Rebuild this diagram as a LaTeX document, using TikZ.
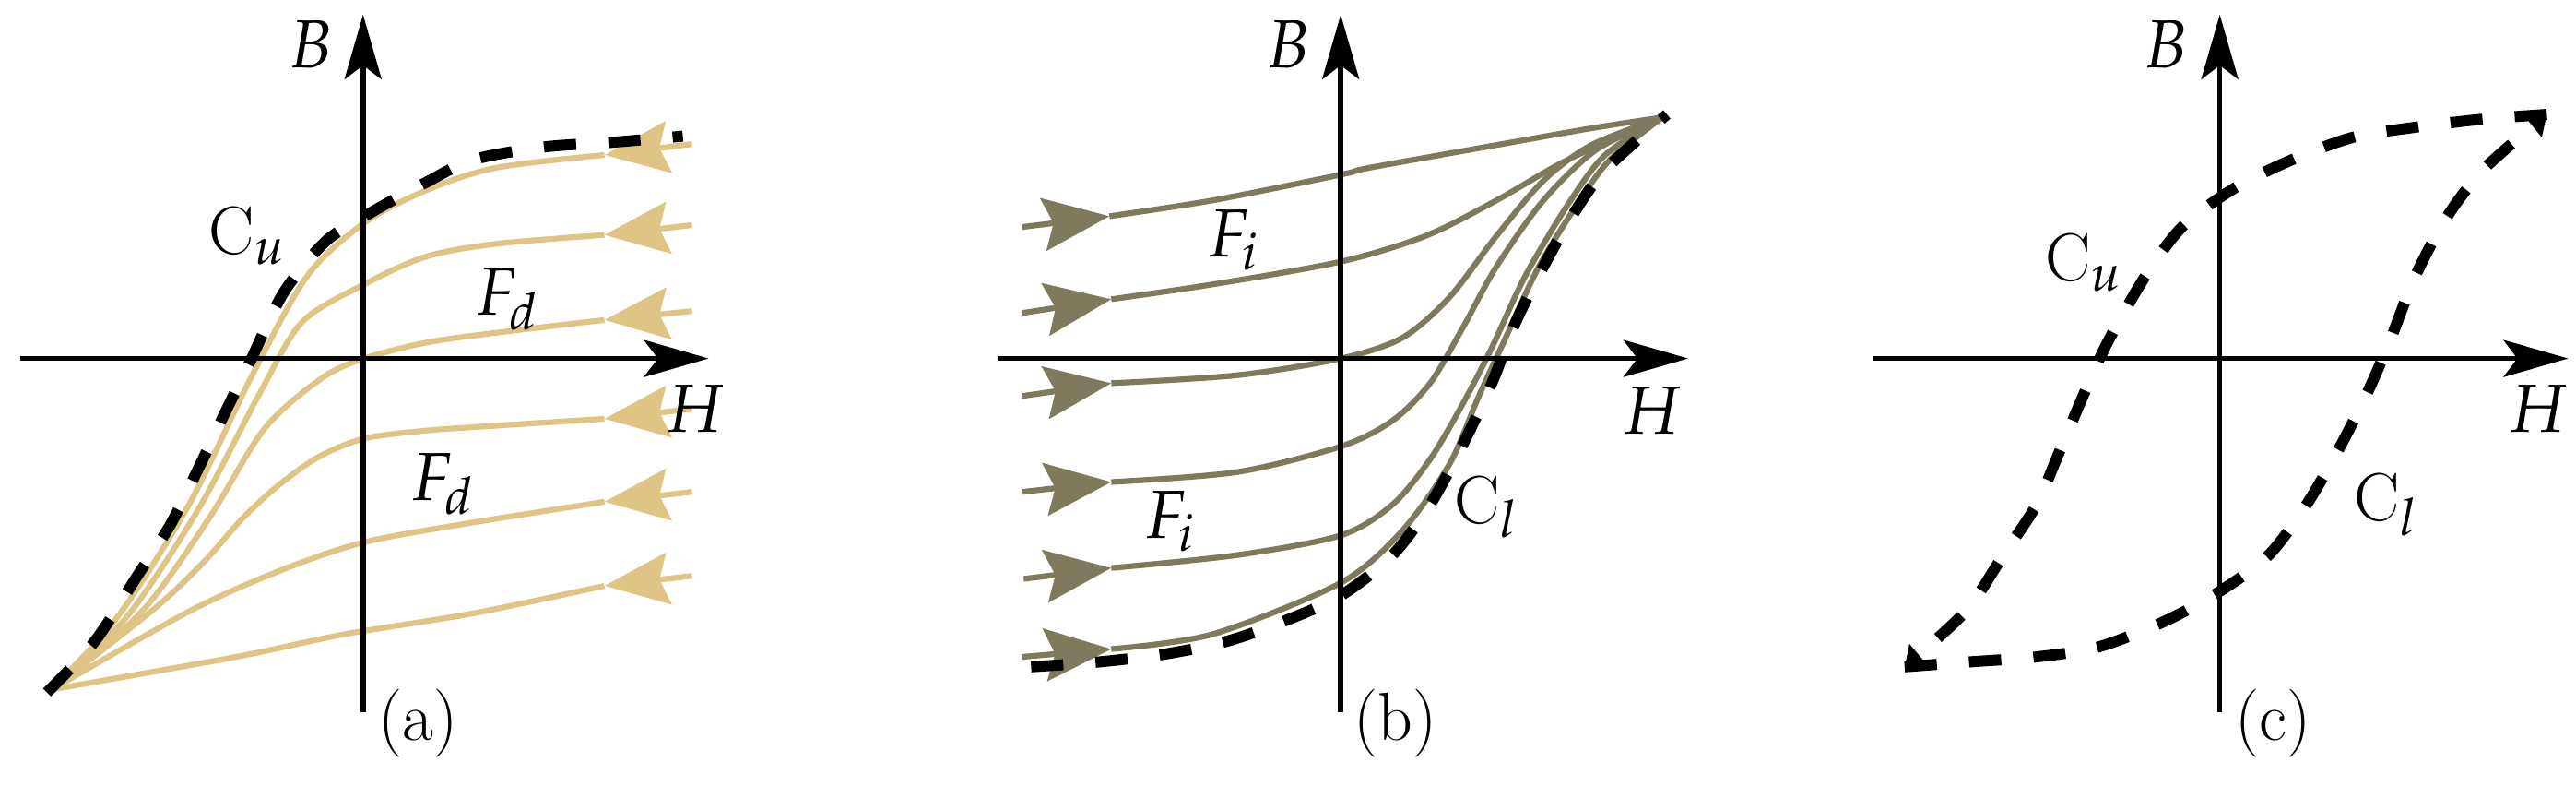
\documentclass[tikz,border=0pt]{standalone}
\usepackage{mathpazo}
\usetikzlibrary{arrows.meta}
\definecolor{sandc}{RGB}{222,197,134}
\definecolor{mudc}{RGB}{127,121,93}
\begin{document}
\begin{tikzpicture}[
  axis/.style={line width=0.055cm,-{Stealth[length=0.7cm,width=0.4cm,inset=0.15cm]}},
  sandline/.style={sandc,line width=0.062cm},
  sandhead/.style={sandc,line width=0.062cm,-{Stealth[length=0.7cm,width=0.56cm,inset=0.1cm]}},
  mudline/.style={mudc,line width=0.062cm},
  mudhead/.style={mudc,line width=0.062cm,-{Stealth[length=0.72cm,width=0.57cm,inset=0.11cm]}},
  dashc/.style={line width=0.12cm,dash pattern=on 0.35cm off 0.35cm},
  smallhead/.style={-{Triangle[length=0.2cm,width=0.3cm]}},
  lab/.style={font=\fontsize{21}{25}\selectfont,inner sep=0pt}]
\useasboundingbox (0cm,0cm) rectangle (27.94cm,-8.52cm);
\begin{scope}[x=0.01cm,y=-0.01071cm,yshift=0.077cm]

% ---------- panel (a)
\foreach \pts in {
 {(656,164) (538,177) (462,200) (395,233) (333,287) (272,390) (205,518) (128,631) (56,705)},
 {(656,245) (538,254) (462,267) (395,295) (328,333) (282,405) (215,523) (138,631) (56,705)},
 {(656,331) (538,344) (462,354) (395,370) (349,390) (287,441) (226,533) (154,626) (56,705)},
 {(656,431) (538,438) (462,443) (395,451) (345,470) (300,500) (262,533) (222,575) (169,622) (56,705)},
 {(656,515) (513,536) (395,556) (303,585) (205,626) (56,705)},
 {(656,600) (513,628) (374,649) (256,672) (56,705)}}
{
  \draw[sandline] plot[smooth] coordinates {\pts};
}
\draw[sandhead] (751,153) -- (656,164);
\draw[sandhead] (751,235) -- (656,245);
\draw[sandhead] (751,322) -- (656,331);
\draw[sandhead] (751,421) -- (656,431);
\draw[sandhead] (751,505) -- (656,515);
\draw[sandhead] (751,590) -- (656,600);

\draw[axis] (394,728) -- (394,22);
\draw[axis] (22,370) -- (769,370);
\draw[dashc] plot[smooth] coordinates {(51,708) (103,656) (149,590) (185,538) (215,482) (241,431) (272,372) (308,303) (354,251) (405,221) (462,192) (513,169) (590,156) (667,151) (741,145)};

\node[lab] (Ba) at (338,52) {$B$};
\node[lab] (Ha) at (754,421) {$H$};
\node[lab] (la) at (454,739) {(a)};
\node[lab] (Cua) at (268,246) {C$_u$};
\node[lab] (Fda) at (550,310) {$F_d$};
\node[lab] (Fdb) at (480,497) {$F_d$};

% ---------- panel (b)
\foreach \pts in {
 {(1204,226) (1316,210) (1455,184) (1486,177) (1624,154) (1727,137) (1804,126)},
 {(1206,310) (1316,295) (1455,272) (1547,246) (1624,210) (1701,169) (1804,126)},
 {(1206,395) (1342,387) (1455,370) (1522,349) (1573,308) (1624,246) (1675,190) (1727,154) (1804,126)},
 {(1206,495) (1342,485) (1455,459) (1511,433) (1552,395) (1588,338) (1624,277) (1675,210) (1732,159) (1804,126)},
 {(1206,582) (1342,569) (1455,549) (1511,518) (1552,472) (1588,415) (1619,359) (1655,287) (1701,215) (1742,164) (1804,126)},
 {(1206,664) (1316,649) (1455,597) (1522,544) (1573,477) (1604,410) (1634,349) (1670,277) (1711,215) (1747,169) (1804,126)}}
{
  \draw[mudline] plot[smooth] coordinates {\pts};
}
\draw[mudhead] (1109,237) -- (1204,226);
\draw[mudhead] (1109,324) -- (1206,310);
\draw[mudhead] (1109,408) -- (1206,395);
\draw[mudhead] (1109,505) -- (1206,495);
\draw[mudhead] (1111,593) -- (1206,582);
\draw[mudhead] (1109,672) -- (1206,664);

\draw[axis] (1455,728) -- (1455,22);
\draw[axis] (1084,370) -- (1832,370);
\draw[dashc] plot[smooth] coordinates {(1119,682) (1193,677) (1265,669) (1332,656) (1393,636) (1455,610) (1511,569) (1552,518) (1588,456) (1619,395) (1645,333) (1675,277) (1706,226) (1742,179) (1809,123)};

\node[lab] (Bb) at (1398,52) {$B$};
\node[lab] (Hb) at (1793,423) {$H$};
\node[lab] (lb) at (1514,739) {(b)};
\node[lab] (Fia) at (1339,250) {$F_i$};
\node[lab] (Fib) at (1270,535) {$F_i$};
\node[lab] (Clb) at (1613,520) {C$_l$};

% ---------- panel (c)
\draw[axis] (2409,728) -- (2409,22);
\draw[axis] (2033,370) -- (2787,370);
\draw[dashc,smallhead] plot[smooth] coordinates {(2764,123) (2692,128) (2621,136) (2554,146) (2487,169) (2426,197) (2369,236) (2328,287) (2287,354) (2262,405) (2236,462) (2210,518) (2174,569) (2133,626) (2067,682)};
\draw[dashc,smallhead] plot[smooth] coordinates {(2067,682) (2138,677) (2210,672) (2277,662) (2349,636) (2410,605) (2462,569) (2503,518) (2538,462) (2569,405) (2595,349) (2621,287) (2656,226) (2697,177) (2764,123)};

\node[lab] (Bc) at (2351,52) {$B$};
\node[lab] (Hc) at (2754,421) {$H$};
\node[lab] (lc) at (2467,739) {(c)};
\node[lab] (Cuc) at (2262,273) {C$_u$};
\node[lab] (Clc) at (2590,518) {C$_l$};
\end{scope}
\end{tikzpicture}
\end{document}
